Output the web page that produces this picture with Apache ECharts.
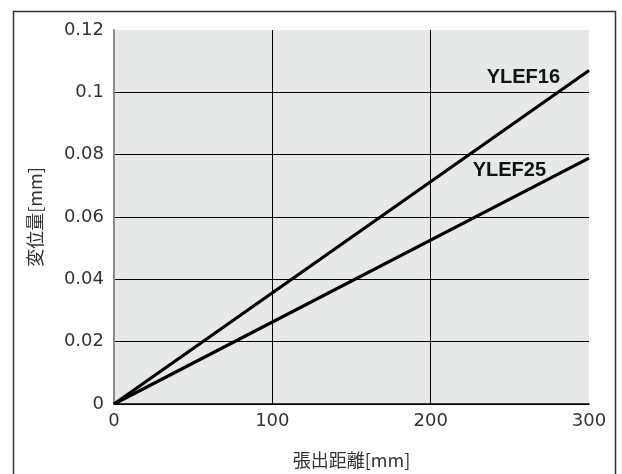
<!DOCTYPE html>
<html>
<head>
<meta charset="utf-8">
<script src="https://cdn.jsdelivr.net/npm/echarts@6/dist/echarts.min.js"></script>
<style>html,body{margin:0;padding:0;background:#fff}#c{width:622px;height:474px}</style>
</head>
<body>
<div id="c"></div>
<script>
const xTicks = [0, 100, 200, 300];
const yTicks = [0, 0.02, 0.04, 0.06, 0.08, 0.1, 0.12];
const seriesNames = ['YLEF16', 'YLEF25'];
const spanX = [0, 300];
const ylef16 = [0, 0.107];
const ylef25 = [0, 0.0789];
const xName = '張出距離[mm]';
const yName = '変位量[mm]';

const chart = echarts.init(document.getElementById('c'));
const labelFont = {fontFamily: 'Liberation Sans, Arial, sans-serif', fontWeight: 'bold', fontSize: 20, color: '#111'};
function mk(name, vals, dist, off) {
  return {
    name: name, type: 'line', showSymbol: true, symbolSize: 0, symbol: 'circle',
    lineStyle: {color: '#000', width: 3.2}, itemStyle: {color: '#000'},
    silent: true, animation: false,
    data: [
      [spanX[0], vals[0]],
      {value: [spanX[1], vals[1]], label: Object.assign({show: true, position: 'left', distance: dist, offset: off, formatter: name}, labelFont)}
    ]
  };
}
chart.setOption({
  backgroundColor: '#fff',
  animation: false,
  grid: {left: 114, right: 33, top: 30, bottom: 70, show: true, backgroundColor: '#e7e8e8', borderWidth: 0,
    containLabel: false, outerBoundsMode: 'none'},
  xAxis: {
    type: 'value', min: xTicks[0], max: xTicks[xTicks.length - 1], interval: 100,
    name: xName, nameLocation: 'middle', nameGap: 47,
    nameTextStyle: {fontFamily: 'Noto Sans CJK JP', fontSize: 18, color: '#333'},
    axisLine: {show: true, onZero: false, lineStyle: {color: '#000', width: 1.5}},
    axisTick: {show: false},
    axisLabel: {margin: 8, fontFamily: 'DejaVu Sans', fontSize: 18, color: '#333',
      formatter: v => xTicks.indexOf(v) >= 0 ? String(v) : ''},
    splitLine: {show: true, lineStyle: {color: ['transparent', '#000', '#000', 'transparent'], width: 1}}
  },
  yAxis: {
    type: 'value', min: yTicks[0], max: yTicks[yTicks.length - 1], interval: 0.02,
    name: yName, nameLocation: 'middle', nameGap: 70, nameRotate: 90,
    nameTextStyle: {fontFamily: 'Noto Sans CJK JP', fontSize: 18, color: '#333'},
    axisLine: {show: true, onZero: false, lineStyle: {color: '#8a8a8a', width: 2}},
    axisTick: {show: false},
    axisLabel: {margin: 10, fontFamily: 'DejaVu Sans', fontSize: 18, color: '#333',
      formatter: v => { const r = Math.round(v * 100) / 100; return String(r); }},
    splitLine: {show: true, lineStyle: {color: ['#000', '#000', '#000', '#000', '#000', '#000', 'transparent'], width: 1}}
  },
  graphic: [{
    type: 'rect', left: 11, top: 9, silent: true, z: -1,
    shape: {x: 0, y: 0, width: 602, height: 480},
    style: {fill: 'none', stroke: '#333', lineWidth: 1.5}
  }],
  series: [
    mk(seriesNames[0], ylef16, 29, [0, 7]),
    mk(seriesNames[1], ylef25, 43, [0, 12])
  ]
});
</script>
</body>
</html>
